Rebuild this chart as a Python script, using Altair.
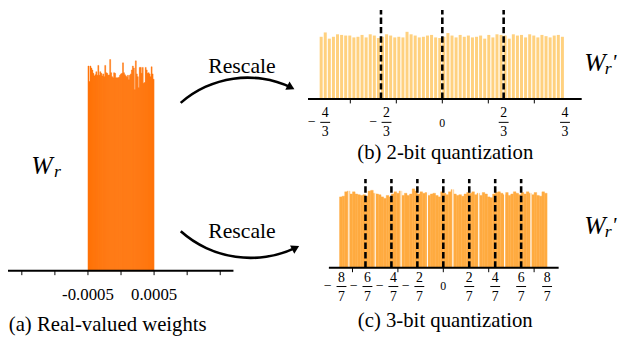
import altair as alt
import numpy as np
import pandas as pd

M = 8  # page margin: chart pixel = page pixel - M

# ---------------- data ----------------
# (a) real-valued weights: 67 bins on [-0.0005, 0.0005]
a_range = [-0.0005, 0.0005]
a_counts = [103.7, 95.8, 103.7, 102.7, 101.7, 100, 98.7, 99.3, 100.8, 99,
            104, 99, 100.8, 100, 98.7, 99.7, 98.3, 104, 100.3, 100,
            99, 99.2, 107, 100.3, 98.3, 97.7, 100.3, 100, 97.7, 97.7,
            97.7, 98, 99, 99.7, 100, 105.3, 100.3, 99.3, 98.7, 98,
            99, 96.7, 99, 99.7, 101.7, 103.7, 102.7, 91.7, 106.3, 99.7,
            98.3, 92.7, 103, 103, 100, 103, 95, 95.3, 103, 101.7,
            100, 100.3, 99.7, 98.3, 103.3, 99.7, 97]
a_ticks = [-0.0015, -0.001, -0.0005, 0, 0.0005, 0.001, 0.0015]
a_labels = [-0.0005, 0.0005]
a_label_text = ["-0.0005", "0.0005"]
a_axis = [-0.00175, 0.0017]

# (b) 2-bit quantization: 60 bins on [-4/3, 4/3]
b_range = [-4 / 3, 4 / 3]
b_counts = [100, 107, 97, 100, 104, 103, 102, 102, 99, 100, 103, 99, 104, 102, 98,
            100, 104, 102, 99, 100, 99, 108, 104, 102, 99, 100, 102, 103, 99, 98,
            100, 106, 102, 99, 103, 100, 102, 99, 100, 102, 97, 103, 99, 104, 103,
            102, 97, 104, 102, 103, 99, 104, 102, 99, 103, 101, 99, 102, 103, 100]
b_thresholds = [-2 / 3, 0, 2 / 3]
b_dash_top = 143
b_ticks = [-1, -0.5, 0, 0.5, 1]
b_label_num = [-4, -2, 2, 4]
b_label_den = 3
b_axis = [-1.46, 1.515]

# (c) 3-bit quantization: 80 bins on [-8/7, 8/7]
c_range = [-8 / 7, 8 / 7]
c_counts = [97, 98, 104, 105, 101, 104, 101, 100, 99, 100,
            98, 105, 106, 102, 101, 100, 97, 95, 99, 97,
            101, 104, 102, 105, 99, 102, 99, 101, 108, 105,
            101, 104, 102, 103, 99, 101, 102, 99, 97, 104,
            102, 100, 104, 107, 101, 99, 100, 98, 101, 103,
            102, 104, 100, 102, 99, 103, 101, 97, 96, 101,
            103, 104, 102, 100, 103, 99, 101, 104, 102, 100,
            103, 101, 104, 102, 100, 103, 99, 98, 104, 102]
c_gaps = [-1.04, -0.75, -0.465, -0.175, 0.105, 0.39, 0.675, 0.965]
c_thresholds = [-6 / 7, -4 / 7, -2 / 7, 0, 2 / 7, 4 / 7, 6 / 7]
c_dash_top = 121.6
c_ticks = [-1, -0.5, 0, 0.5, 1]
c_label_num = [-8, -6, -4, -2, 2, 4, 6, 8]
c_label_den = 7
c_axis = [-1.26, 1.27]

# ---------------- styles ----------------
C_A = "#FF6F00"
C_B = "#FFD17F"
C_C = "#FFAB40"
SERIF = "Liberation Serif"

XA = alt.Scale(domain=[-0.0015, 0.0015], range=[22 - M, 223 - M], nice=False, zero=False)
YA = alt.Scale(domain=[0, 100], range=[272 - M, 72 - M], nice=False, zero=False)
XB = alt.Scale(domain=[-1.5, 1.5], range=[308.2 - M, 587.8 - M], nice=False, zero=False)
YB = alt.Scale(domain=[0, 100], range=[98 - M, 35 - M], nice=False, zero=False)
XC = alt.Scale(domain=[-1.5, 1.5], range=[311 - M, 587 - M], nice=False, zero=False)
YC = alt.Scale(domain=[0, 100], range=[269 - M, 195 - M], nice=False, zero=False)


def hist_df(rng, counts):
    edges = np.linspace(rng[0], rng[1], len(counts) + 1)
    return pd.DataFrame({"x0": edges[:-1], "x1": edges[1:], "count": counts, "base": 0.0})


def X(field, sc):
    return alt.X(field, type="quantitative", scale=sc, axis=None)


def Y(field, sc):
    return alt.Y(field, type="quantitative", scale=sc, axis=None)


def txt(s, x, y, size, **kw):
    return alt.Chart(pd.DataFrame({"s": [s]})).mark_text(
        x=x - M, y=y - M, fontSize=size, font=SERIF, color="black", **kw
    ).encode(text="s:N")


def axis_layers(sc_x, sc_y, rng, ticks, width=2):
    line = alt.Chart(pd.DataFrame({"x0": [rng[0]], "x1": [rng[1]], "base": [0.0]})).mark_rule(
        color="black", strokeWidth=width
    ).encode(x=X("x0", sc_x), x2="x1", y=Y("base", sc_y))
    tk = alt.Chart(pd.DataFrame({"t": ticks, "base": 0.0})).mark_rule(
        color="black", strokeWidth=1, y2Offset=4.5
    ).encode(x=X("t", sc_x), y=Y("base", sc_y), y2="base")
    return [line, tk]


def dashed(sc_x, sc_y, xs, top):
    return alt.Chart(pd.DataFrame({"t": xs, "base": 0.0, "top": top})).mark_rule(
        color="black", strokeWidth=2.6, strokeDash=[6.5, 3]
    ).encode(x=X("t", sc_x), y=Y("base", sc_y), y2="top")


def frac_layers(sc_x, nums, den, y_num, y_bar, y_den, y_zero, neg_dx, minus_dx, size):
    df = pd.DataFrame({"v": [n / den for n in nums], "num": [str(abs(n)) for n in nums],
                       "den": str(den), "neg": [n < 0 for n in nums]})
    out = []
    for neg, dx in [(True, neg_dx), (False, 0)]:
        sub = df[df["neg"] == neg]
        base = alt.Chart(sub)
        out.append(base.mark_text(y=y_num - M, dx=dx, fontSize=size, font=SERIF, baseline="middle")
                   .encode(x=X("v", sc_x), text="num:N"))
        out.append(base.mark_text(y=y_den - M, dx=dx, fontSize=size, font=SERIF, baseline="middle")
                   .encode(x=X("v", sc_x), text="den:N"))
        out.append(base.mark_rule(color="black", strokeWidth=1, xOffset=dx - 5, x2Offset=dx + 5)
                   .encode(x=X("v", sc_x), x2="v", y=alt.value(y_bar - M)))
        if neg:
            out.append(base.mark_text(y=y_bar - M, dx=minus_dx, fontSize=size, font=SERIF,
                                      baseline="middle", text="\u2212")
                       .encode(x=X("v", sc_x)))
    zero = alt.Chart(pd.DataFrame({"v": [0.0], "s": ["0"]})).mark_text(
        y=y_zero - M, fontSize=size - 2, font=SERIF, baseline="middle"
    ).encode(x=X("v", sc_x), text="s:N")
    out.append(zero)
    return out


# ---------------- panel (a) ----------------
da = hist_df(a_range, a_counts)
bars_a = alt.Chart(da).mark_rect(color=C_A, stroke=C_A, strokeWidth=0.4).encode(
    x=X("x0", XA), x2="x1", y=Y("count", YA), y2="base")
lab_a = alt.Chart(pd.DataFrame({"v": a_labels, "s": a_label_text})).mark_text(
    y=297 - M, fontSize=17, font=SERIF, baseline="middle").encode(x=X("v", XA), text="s:N")
panel_a = alt.layer(bars_a, *axis_layers(XA, YA, a_axis, a_ticks), lab_a)

# ---------------- panel (b) ----------------
db = hist_df(b_range, b_counts)
bars_b = alt.Chart(db).mark_rect(color=C_B, x2Offset=-1.1).encode(
    x=X("x0", XB), x2="x1", y=Y("count", YB), y2="base")
panel_b = alt.layer(
    bars_b, dashed(XB, YB, b_thresholds, b_dash_top), *axis_layers(XB, YB, b_axis, b_ticks),
    *frac_layers(XB, b_label_num, b_label_den, 112.5, 121.7, 131.5, 122, 5.6, -8, 14))

# ---------------- panel (c) ----------------
dc = hist_df(c_range, c_counts)
bars_c = alt.Chart(dc).mark_rect(color=C_C, stroke=C_C, strokeWidth=0.4).encode(
    x=X("x0", XC), x2="x1", y=Y("count", YC), y2="base")
gaps_c = alt.Chart(pd.DataFrame({"g": c_gaps, "base": 0.0, "top": 115.0})).mark_rule(
    color="white", strokeWidth=1.1).encode(x=X("g", XC), y=Y("base", YC), y2="top")
panel_c = alt.layer(
    bars_c, gaps_c, dashed(XC, YC, c_thresholds, c_dash_top), *axis_layers(XC, YC, c_axis, c_ticks),
    *frac_layers(XC, c_label_num, c_label_den, 279, 288, 299, 288, 2, -12, 14))

# ---------------- annotations ----------------
one = pd.DataFrame({"k": [0]})


def arc(cx, cy, r, t1, t2):
    return alt.Chart(one).mark_arc(x=cx - M, y=cy - M, radius=r + 1.3, radius2=r - 1.3,
                                   theta=t1, theta2=t2).encode(color=alt.value("black"))


def head(x, y, ang):
    return alt.Chart(one).mark_point(x=x - M, y=y - M, shape="triangle-right", size=85,
                                     angle=ang, filled=True, opacity=1).encode(color=alt.value("black"))


notes = [
    txt("(a) Real-valued weights", 109, 327, 21, baseline="middle"),
    txt("(b) 2-bit quantization", 451, 153, 21, baseline="middle"),
    txt("(c) 3-bit quantization", 451, 323, 21, baseline="middle"),
    txt("Rescale", 245, 65, 22, baseline="middle"),
    txt("Rescale", 245, 232, 22, baseline="middle"),
    arc(250.7, 178.9, 102.5, 5.561, 6.723),
    head(294.6, 86.3, 27.5),
    arc(253.8, 152.8, 106.2, 2.70, 3.871),
    head(299.4, 248.8, 332.4),
    # W_r
    txt("W", 42.5, 174, 26, fontStyle="italic", baseline="alphabetic"),
    txt("r", 58, 177, 18, fontStyle="italic", baseline="alphabetic"),
    # W_r' (b)
    txt("W", 602.5, 70, 26, fontStyle="italic", baseline="alphabetic"),
    txt("r", 616, 73, 18, fontStyle="italic", baseline="alphabetic"),
    txt("'", 622, 68, 22, fontStyle="italic", baseline="alphabetic"),
    # W_r' (c)
    txt("W", 602.5, 235, 26, fontStyle="italic", baseline="alphabetic"),
    txt("r", 616, 238, 18, fontStyle="italic", baseline="alphabetic"),
    txt("'", 622, 233, 22, fontStyle="italic", baseline="alphabetic"),
]

chart = alt.layer(panel_a, panel_b, panel_c, *notes).resolve_scale(
    x="independent", y="independent"
).properties(width=620, height=331, autosize="none", padding=0).configure_view(stroke=None)

chart.save("out.html", embed_options={"renderer": "svg", "actions": False})
